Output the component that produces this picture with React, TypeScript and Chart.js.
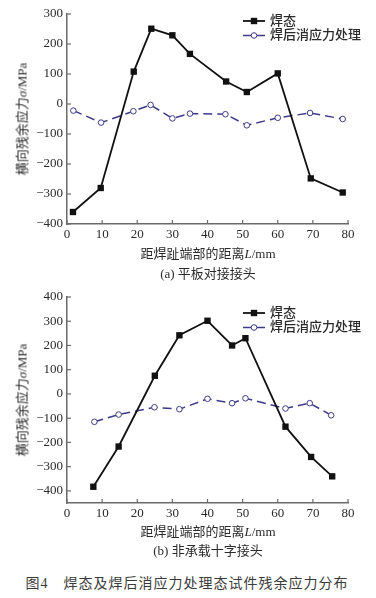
import React, { useEffect, useRef } from "react";
import { Chart, registerables } from "chart.js";
Chart.register(...registerables);

// ---------- data ----------
const seriesNames = ["焊态", "焊后消应力处理"];

// (a) 平板对接接头
const xA_weld = [1.7, 9.6, 19, 24, 30, 35, 45.3, 51.2, 60, 69.4, 78.5];
const yA_weld = [-360, -280, 108, 251, 229, 167, 75, 40, 102, -248, -295];
const xA_relief = [1.8, 9.7, 18.9, 23.8, 30, 35, 45.1, 51.2, 60, 69.2, 78.5];
const yA_relief = [-22, -62, -24, -3, -48, -32, -34, -71, -46, -30, -50];
const yTicksA = [-400, -300, -200, -100, 0, 100, 200, 300];

// (b) 非承载十字接头
const xB_weld = [7.5, 14.7, 25, 32, 40, 47, 50.8, 62.2, 69.5, 75.5];
const yB_weld = [-383, -217, 75, 242, 302, 200, 230, -135, -260, -340];
const xB_relief = [7.8, 14.7, 24.9, 32, 40, 47, 50.8, 62.2, 69.1, 75.2];
const yB_relief = [-115, -85, -55, -63, -20, -38, -18, -60, -38, -88];
const yTicksB = [-400, -300, -200, -100, 0, 100, 200, 300, 400];

const xTicks = [0, 10, 20, 30, 40, 50, 60, 70, 80];

const xTitle = "距焊趾端部的距离";
const yTitle = "横向残余应力";
const subTitleA = "(a) 平板对接接头";
const subTitleB = "(b) 非承载十字接头";
const caption = "图4　焊态及焊后消应力处理态试件残余应力分布";

// ---------- styles ----------
const AXIS = "#6a6a6a";
const TEXT = "#2a2a2a";
const BLACK = "#111111";
const BLUE = "#3d3a8a";
const FONT = "'Liberation Serif', 'Noto Sans CJK SC', serif";

const inwardTicks = {
  id: "inwardTicks",
  afterDraw(chart: any) {
    const { ctx, chartArea, scales } = chart;
    ctx.save();
    ctx.strokeStyle = AXIS;
    ctx.lineWidth = 1.2;
    scales.x.ticks.forEach((t: any) => {
      const px = scales.x.getPixelForValue(t.value);
      ctx.beginPath();
      ctx.moveTo(px, chartArea.bottom);
      ctx.lineTo(px, chartArea.bottom - 4);
      ctx.stroke();
    });
    scales.y.ticks.forEach((t: any) => {
      const py = scales.y.getPixelForValue(t.value);
      ctx.beginPath();
      ctx.moveTo(chartArea.left, py);
      ctx.lineTo(chartArea.left + 4, py);
      ctx.stroke();
    });
    ctx.restore();
  },
};

const lineLegend = {
  id: "lineLegend",
  afterDraw(chart: any, _args: any, opts: any) {
    const { ctx } = chart;
    const x0 = opts.x;
    const len = 22;
    ctx.save();
    chart.data.datasets.forEach((ds: any, i: number) => {
      const y = opts.y + i * opts.gap;
      ctx.strokeStyle = ds.borderColor;
      ctx.lineWidth = ds.borderWidth;
      ctx.setLineDash(ds.borderDash || []);
      ctx.beginPath();
      ctx.moveTo(x0, y);
      ctx.lineTo(x0 + len, y);
      ctx.stroke();
      ctx.setLineDash([]);
      ctx.lineWidth = 1;
      ctx.strokeStyle = ds.pointBorderColor;
      ctx.fillStyle = ds.pointBackgroundColor;
      if (ds.pointStyle === "rect") {
        ctx.fillRect(x0 + len / 2 - 3.2, y - 3.2, 6.4, 6.4);
      } else {
        ctx.beginPath();
        ctx.arc(x0 + len / 2, y, ds.pointRadius, 0, Math.PI * 2);
        ctx.fill();
        ctx.stroke();
      }
      ctx.fillStyle = TEXT;
      ctx.font = `500 13px ${FONT}`;
      ctx.textBaseline = "middle";
      ctx.textAlign = "left";
      ctx.fillText(ds.label, x0 + len + 5, y + 0.5);
    });
    ctx.restore();
  },
};

function makeData(xs: number[], ys: number[]) {
  return xs.map((x, i) => ({ x, y: ys[i] }));
}

function fmt(v: number) {
  return v < 0 ? "\u2212" + Math.abs(v) : String(v);
}

type PanelProps = {
  top: number;
  height: number;
  plotTop: number;
  plotBottom: number;
  yMin: number;
  yMax: number;
  yTicks: number[];
  weld: { x: number; y: number }[];
  relief: { x: number; y: number }[];
  legendY: number;
};

function Panel(p: PanelProps) {
  const ref = useRef<HTMLCanvasElement | null>(null);
  useEffect(() => {
    if (!ref.current) return;
    const chart = new Chart(ref.current, {
      type: "line",
      data: {
        datasets: [
          {
            label: seriesNames[0],
            data: p.weld,
            borderColor: BLACK,
            borderWidth: 1.8,
            pointStyle: "rect",
            pointRadius: 4.5,
            pointBackgroundColor: BLACK,
            pointBorderColor: BLACK,
            pointBorderWidth: 0,
            tension: 0,
          },
          {
            label: seriesNames[1],
            data: p.relief,
            borderColor: BLUE,
            borderWidth: 1.5,
            borderDash: [9, 5],
            pointStyle: "circle",
            pointRadius: 2.8,
            pointBackgroundColor: "#ffffff",
            pointBorderColor: BLUE,
            pointBorderWidth: 1,
            tension: 0,
          },
        ],
      } as any,
      options: {
        animation: false,
        responsive: false,
        maintainAspectRatio: false,
        layout: { padding: { top: p.plotTop - p.top, right: 28, left: 0, bottom: 0 } },
        plugins: {
          legend: { display: false },
          tooltip: { enabled: false },
          lineLegend: { x: 243, y: p.legendY, gap: 14.5 },
        } as any,
        scales: {
          x: {
            type: "linear",
            min: 0,
            max: 80,
            afterBuildTicks: (s: any) => {
              s.ticks = xTicks.map((v) => ({ value: v }));
            },
            afterFit: (s: any) => {
              s.height = p.top + p.height - p.plotBottom;
            },
            grid: { display: false, drawTicks: false },
            border: { display: true, color: AXIS, width: 1.5 },
            ticks: {
              padding: 3,
              color: TEXT,
              font: { family: FONT, size: 13 },
              maxRotation: 0,
              callback: (v: any) => fmt(Number(v)),
            },
          },
          y: {
            type: "linear",
            min: p.yMin,
            max: p.yMax,
            afterBuildTicks: (s: any) => {
              s.ticks = p.yTicks.map((v) => ({ value: v }));
            },
            afterFit: (s: any) => {
              s.width = 67;
            },
            grid: { display: false, drawTicks: false },
            border: { display: true, color: AXIS, width: 1.5 },
            ticks: {
              padding: 4,
              color: TEXT,
              font: { family: FONT, size: 13 },
              callback: (v: any) => fmt(Number(v)),
            },
          },
        },
      } as any,
      plugins: [inwardTicks, lineLegend],
    });
    return () => chart.destroy();
  }, []);
  return (
    <canvas
      ref={ref}
      width={376}
      height={p.height}
      style={{ position: "absolute", left: 0, top: p.top, width: 376, height: p.height }}
    />
  );
}

const textBase: React.CSSProperties = {
  position: "absolute",
  transform: "translate(-50%, -50%)",
  whiteSpace: "nowrap",
  fontFamily: FONT,
  color: TEXT,
  lineHeight: 1,
};

function YTitle({ cy }: { cy: number }) {
  return (
    <div
      style={{
        ...textBase,
        left: 22,
        top: cy,
        fontSize: 13,
        transform: "translate(-50%, -50%) rotate(-90deg)",
      }}
    >
      {yTitle}
      <i>σ</i>/MPa
    </div>
  );
}

function XTitle({ cy }: { cy: number }) {
  return (
    <div style={{ ...textBase, left: 208, top: cy, fontSize: 13 }}>
      {xTitle}
      <i>L</i>/mm
    </div>
  );
}

export default function App() {
  useEffect(() => {
    document.body.style.margin = "0";
  }, []);
  return (
    <div style={{ position: "absolute", left: 0, top: 0, width: 376, height: 598, background: "#fff", overflow: "hidden" }}>
      <Panel
        top={0}
        height={246}
        plotTop={14}
        plotBottom={224}
        yMin={-400}
        yMax={300}
        yTicks={yTicksA}
        weld={makeData(xA_weld, yA_weld)}
        relief={makeData(xA_relief, yA_relief)}
        legendY={21}
      />
      <YTitle cy={119} />
      <XTitle cy={253} />
      <div style={{ ...textBase, left: 208, top: 273, fontSize: 13 }}>{subTitleA}</div>

      <Panel
        top={283}
        height={246}
        plotTop={297}
        plotBottom={503}
        yMin={-450}
        yMax={400}
        yTicks={yTicksB}
        weld={makeData(xB_weld, yB_weld)}
        relief={makeData(xB_relief, yB_relief)}
        legendY={30}
      />
      <YTitle cy={400} />
      <XTitle cy={531} />
      <div style={{ ...textBase, left: 208, top: 550, fontSize: 13 }}>{subTitleB}</div>

      <div style={{ ...textBase, left: 187, top: 584, fontSize: 14, letterSpacing: 1, color: "#3a3a3a" }}>{caption}</div>
    </div>
  );
}
